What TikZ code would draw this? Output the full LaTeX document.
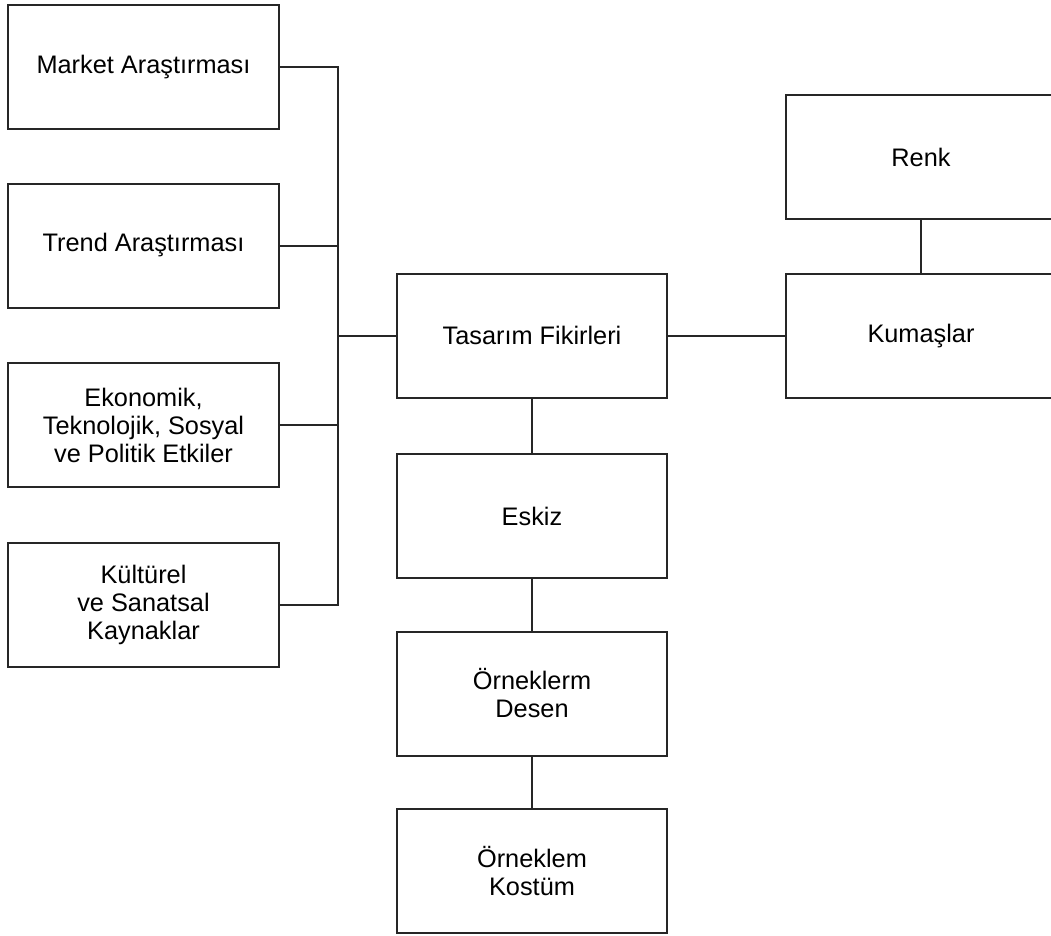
\documentclass[tikz,border=0pt]{standalone}
\usepackage{fontspec}
\setmainfont{Liberation Sans}
\usetikzlibrary{positioning}
\tikzset{kutu/.style={draw=black!85, line width=1.5pt, minimum width=203pt, minimum height=93pt, align=center, inner sep=2pt, font=\fontsize{19}{21}\selectfont}}
\tikzset{hat/.style={draw=black!85, line width=1.5pt}}

\begin{document}
\begin{tikzpicture}[x=0.75pt, y=-0.75pt]
\clip (0,0) rectangle (1051,936);
\node[kutu] (market) at (143.5,67) {Market Araştırması};
\node[kutu] (trend) at (143.5,245.5) {Trend Araştırması};
\node[kutu] (ekonomik) at (143.5,425) {Ekonomik,\\Teknolojik, Sosyal\\ve Politik Etkiler};
\node[kutu] (kulturel) at (143.5,604.5) {Kültürel\\ve Sanatsal\\Kaynaklar};
\node[kutu] (tasarim) at (532,335.5) {Tasarım Fikirleri};
\node[kutu] (eskiz) at (532,516) {Eskiz};
\node[kutu] (desen) at (532,693.5) {Örneklerm\\Desen};
\node[kutu] (kostum) at (532,871) {Örneklem\\Kostüm};
\node[kutu] (renk) at (921,157) {Renk};
\node[kutu] (kumas) at (921,335.5) {Kumaşlar};
% kaynaklar tek bir dikey hatta toplanir
\coordinate (bus) at (338,335.5);
\draw[hat] (market.east) -| (bus);
\draw[hat] (kulturel.east) -| (bus);
\draw[hat] (trend.east) -- (trend.east -| bus);
\draw[hat] (ekonomik.east) -- (ekonomik.east -| bus);
\draw[hat] (bus) -- (tasarim.west);
\draw[hat] (tasarim) -- (eskiz);
\draw[hat] (eskiz) -- (desen);
\draw[hat] (desen) -- (kostum);
\draw[hat] (tasarim) -- (kumas);
\draw[hat] (renk) -- (kumas);
\end{tikzpicture}
\end{document}
